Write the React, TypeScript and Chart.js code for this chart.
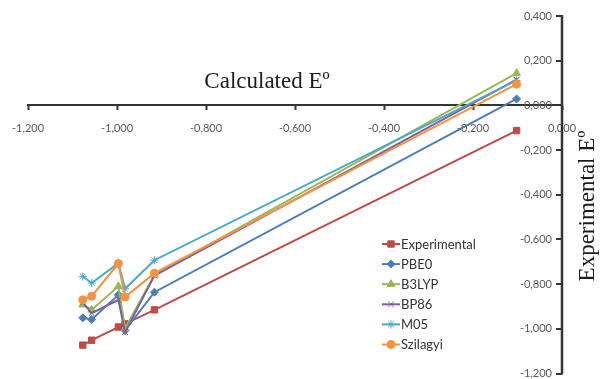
import React, { useEffect, useRef } from 'react';
import { Chart, registerables } from 'chart.js';
import { drawPoint } from 'chart.js/helpers';

Chart.register(...registerables);

// ---- data ----
const calculatedE = [-1.077, -1.057, -0.997, -0.982, -0.916, -0.102];
const experimental = [-1.073, -1.051, -0.992, -0.978, -0.915, -0.113];
const pbe0 = [-0.951, -0.958, -0.848, -1.007, -0.836, 0.029];
const b3lyp = [-0.892, -0.915, -0.81, -0.999, -0.759, 0.144];
const bp86 = [-0.883, -0.93, -0.87, -1.015, -0.762, 0.115];
const m05 = [-0.766, -0.795, -0.706, -0.821, -0.693, 0.112];
const szilagyi = [-0.87, -0.854, -0.708, -0.858, -0.751, 0.095];

const seriesNames = ['Experimental', 'PBE0', 'B3LYP', 'BP86', 'M05', 'Szilagyi'];
const seriesValues = [experimental, pbe0, b3lyp, bp86, m05, szilagyi];
const seriesColors = ['#BE4B48', '#4A7EBB', '#98B954', '#7D60A0', '#46AAC5', '#F69240'];
const seriesMarkers = ['rect', 'rectRot', 'triangle', 'crossRot', 'star', 'circle'];
const markerRadius = [4.5, 4, 4.5, 4, 4, 4];

const xAxisTitle = 'Calculated Eº';
const yAxisTitle = 'Experimental Eº';

const tickFont = '11px Lato, "Open Sans", sans-serif';
const tickColor = '#595959';
const axisColor = '#333333';

const fmt = (v: number) => Number(v).toFixed(3).replace('.', ',');

const overlay = {
  id: 'overlay',
  afterDraw(chart: any) {
    const ctx = chart.ctx as CanvasRenderingContext2D;
    const ys = chart.scales.y;
    const area = chart.chartArea;
    const axisX = Math.round(chart.scales.x.getPixelForValue(0));

    ctx.save();
    ctx.globalAlpha = 1;
    ctx.globalCompositeOperation = 'source-over';

    // y tick labels, left of the y axis
    ctx.font = tickFont;
    ctx.fillStyle = tickColor;
    ctx.textAlign = 'right';
    ctx.textBaseline = 'middle';
    ys.ticks.forEach((t: any) => {
      ctx.fillText(fmt(t.value), axisX - 10, ys.getPixelForValue(t.value));
    });

    // axis titles
    ctx.fillStyle = '#1c1c1c';
    ctx.font = '23px "Liberation Serif", "Times New Roman", serif';
    ctx.textAlign = 'center';
    ctx.textBaseline = 'alphabetic';
    ctx.fillText(xAxisTitle, 267, 88);
    ctx.save();
    ctx.translate(588, 206);
    ctx.rotate(-Math.PI / 2);
    ctx.textBaseline = 'middle';
    ctx.fillText(yAxisTitle, 0, 0);
    ctx.restore();

    // legend
    const lx = 382;
    const ly = 244;
    const step = 20.1;
    ctx.font = '13px Lato, "Open Sans", sans-serif';
    ctx.textAlign = 'left';
    ctx.textBaseline = 'middle';
    chart.data.datasets.forEach((ds: any, i: number) => {
      const y = ly + i * step;
      ctx.strokeStyle = ds.borderColor;
      ctx.lineWidth = 2;
      ctx.beginPath();
      ctx.moveTo(lx, y);
      ctx.lineTo(lx + 18, y);
      ctx.stroke();
      ctx.fillStyle = ds.backgroundColor;
      ctx.strokeStyle = ds.borderColor;
      ctx.lineWidth = 1;
      drawPoint(ctx, { pointStyle: ds.pointStyle, radius: ds.pointRadius, borderWidth: 1, rotation: 0 } as any, lx + 9, y);
      ctx.fillStyle = '#333333';
      ctx.fillText(ds.label, lx + 19, y + 0.5);
    });

    // vertical axis at x = 0 with tick marks pointing left (drawn last)
    ctx.strokeStyle = axisColor;
    ctx.lineWidth = 2.5;
    ctx.beginPath();
    ctx.moveTo(axisX, area.top - 1);
    ctx.lineTo(axisX, area.bottom + 1);
    ctx.stroke();
    ctx.lineWidth = 2;
    ctx.beginPath();
    ys.ticks.forEach((t: any) => {
      const py = Math.round(ys.getPixelForValue(t.value));
      ctx.moveTo(axisX - 6, py);
      ctx.lineTo(axisX, py);
    });
    ctx.stroke();
    ctx.restore();
  },
};

export default function App() {
  const ref = useRef<HTMLCanvasElement>(null);

  useEffect(() => {
    if (!ref.current) return;
    const datasets = seriesNames.map((name, i) => ({
      label: name,
      data: calculatedE.map((x, j) => ({ x, y: seriesValues[i][j] })),
      borderColor: seriesColors[i],
      backgroundColor: seriesColors[i],
      pointStyle: seriesMarkers[i],
      pointRadius: markerRadius[i],
      pointBorderWidth: 1,
      borderWidth: 2,
      showLine: true,
      order: seriesNames.length - i,
    }));

    const chart = new Chart(ref.current, {
      type: 'scatter',
      data: { datasets },
      options: {
        animation: false,
        responsive: false,
        devicePixelRatio: 1,
        layout: { padding: { left: 28, right: 41, top: 16, bottom: 3 } },
        plugins: {
          legend: { display: false },
          tooltip: { enabled: false },
        },
        scales: {
          x: {
            type: 'linear',
            min: -1.2,
            max: 0,
            position: { y: 0 } as any,
            afterFit: (s: any) => { s.height = 0; },
            border: { display: true, color: axisColor, width: 2 },
            grid: { drawOnChartArea: false, drawTicks: true, tickLength: 4, tickColor: axisColor, tickWidth: 2 },
            ticks: {
              stepSize: 0.2,
              maxRotation: 0,
              autoSkip: false,
              padding: 12,
              color: tickColor,
              font: { family: 'Lato, "Open Sans", sans-serif', size: 11 },
              callback: (v: any) => fmt(v),
            },
          },
          y: {
            type: 'linear',
            min: -1.2,
            max: 0.4,
            position: 'right',
            afterFit: (s: any) => { s.width = 0; },
            border: { display: false },
            grid: { display: false },
            ticks: { stepSize: 0.2, autoSkip: false, display: false },
          },
        },
      },
      plugins: [overlay],
    });
    return () => chart.destroy();
  }, []);

  return (
    <div style={{ position: 'fixed', left: 0, top: 0, width: 603, height: 379, background: '#ffffff' }}>
      <canvas ref={ref} width={603} height={379} />
    </div>
  );
}
